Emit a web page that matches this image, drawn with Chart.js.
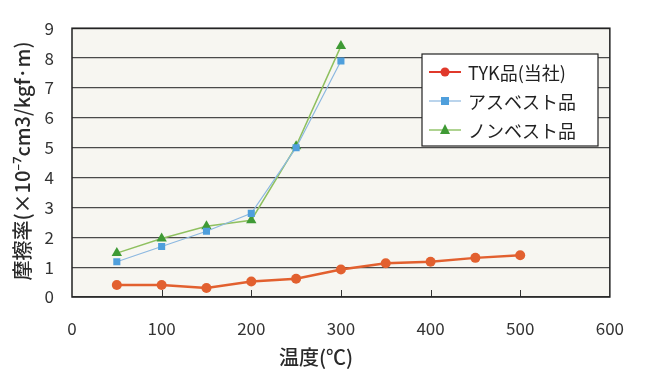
<!DOCTYPE html>
<html>
<head>
<meta charset="utf-8">
<script src="https://cdn.jsdelivr.net/npm/chart.js@4/dist/chart.umd.min.js"></script>
<style>
  html, body { margin: 0; padding: 0; background: #fff; }
  #wrap { width: 645px; height: 374px; }
</style>
</head>
<body>
<div id="wrap"><canvas id="wearChart" width="645" height="374"></canvas></div>
<script>
// data
const tykTemps = [50, 100, 150, 200, 250, 300, 350, 400, 450, 500];
const tykRates = [0.4, 0.4, 0.3, 0.52, 0.61, 0.92, 1.13, 1.18, 1.31, 1.4];
const asbTemps = [50, 100, 150, 200, 250, 300];
const asbRates = [1.18, 1.69, 2.2, 2.8, 5.0, 7.9];
const nonTemps = [50, 100, 150, 200, 250, 300];
const nonRates = [1.47, 1.96, 2.37, 2.57, 5.05, 8.4];
const seriesNames = ['TYK品(当社)', 'アスベスト品', 'ノンベスト品'];
const xTicks = [0, 100, 200, 300, 400, 500, 600];
const yTicks = [0, 1, 2, 3, 4, 5, 6, 7, 8, 9];

const FONT = '"Noto Sans CJK JP", "Noto Sans", sans-serif';

const toPoints = (xs, ys) => xs.map((x, i) => ({x: x, y: ys[i]}));

const legendStyles = [
  {line: '#e0392b', fill: '#e0392b', shape: 'circle'},
  {line: '#8cb8e0', fill: '#4f9fdc', shape: 'rect'},
  {line: '#7ab648', fill: '#3f9a35', shape: 'triangle'}
];

// plot background, inner ticks, titles and the boxed legend
const decor = {
  id: 'decor',
  beforeDraw(chart) {
    const {ctx, chartArea: a} = chart;
    ctx.save();
    ctx.fillStyle = '#f7f6f1';
    ctx.fillRect(a.left, a.top, a.right - a.left, a.bottom - a.top);
    ctx.restore();
  },
  afterDraw(chart) {
    const {ctx, chartArea: a, scales} = chart;
    ctx.save();
    // small inward ticks on the bottom axis
    ctx.strokeStyle = '#333';
    ctx.lineWidth = 1;
    xTicks.slice(1, -1).forEach(v => {
      const x = Math.round(scales.x.getPixelForValue(v)) + 0.5;
      ctx.beginPath();
      ctx.moveTo(x, a.bottom);
      ctx.lineTo(x, a.bottom - 7);
      ctx.stroke();
    });
    // frame
    ctx.strokeStyle = '#222';
    ctx.lineWidth = 1.5;
    ctx.strokeRect(a.left, a.top, a.right - a.left, a.bottom - a.top);

    // axis titles
    ctx.fillStyle = '#2a2a2a';
    ctx.font = '500 20px ' + FONT;
    ctx.textAlign = 'center';
    ctx.textBaseline = 'middle';
    ctx.fillText('温度(℃)', 316, 357);
    ctx.save();
    ctx.translate(22, 161);
    ctx.rotate(-Math.PI / 2);
    ctx.fillText('摩擦率(×10⁻⁷cm3/kgf·m)', 0, 0);
    ctx.restore();

    // legend box
    const lx = 422, ly = 54, lw = 176, lh = 92;
    ctx.fillStyle = '#fff';
    ctx.fillRect(lx, ly, lw, lh);
    ctx.strokeStyle = '#222';
    ctx.lineWidth = 1.2;
    ctx.strokeRect(lx, ly, lw, lh);
    ctx.font = '18px ' + FONT;
    ctx.textAlign = 'left';
    seriesNames.forEach((name, i) => {
      const s = legendStyles[i];
      const cy = ly + 18 + i * 29;
      ctx.strokeStyle = s.line;
      ctx.lineWidth = i === 0 ? 2 : 1.2;
      ctx.beginPath();
      ctx.moveTo(lx + 7, cy);
      ctx.lineTo(lx + 39, cy);
      ctx.stroke();
      ctx.fillStyle = s.fill;
      ctx.beginPath();
      if (s.shape === 'circle') {
        ctx.arc(lx + 23, cy, 4.5, 0, Math.PI * 2);
      } else if (s.shape === 'rect') {
        ctx.rect(lx + 19, cy - 4, 8, 8);
      } else {
        ctx.moveTo(lx + 23, cy - 6);
        ctx.lineTo(lx + 28, cy + 4);
        ctx.lineTo(lx + 18, cy + 4);
        ctx.closePath();
      }
      ctx.fill();
      ctx.fillStyle = '#222';
      ctx.fillText(name, lx + 46, cy + 1);
    });
    ctx.restore();
  }
};

const wearChart = new Chart(document.getElementById('wearChart'), {
  type: 'line',
  data: {
    datasets: [{
      label: seriesNames[0],
      data: toPoints(tykTemps, tykRates),
      borderColor: '#e2602f',
      backgroundColor: '#e2602f',
      borderWidth: 2.5,
      pointStyle: 'circle',
      pointRadius: 5,
      pointBorderWidth: 0
    }, {
      label: seriesNames[1],
      data: toPoints(asbTemps, asbRates),
      borderColor: '#8cb8e0',
      backgroundColor: '#4f9fdc',
      borderWidth: 1.2,
      pointStyle: 'rect',
      pointRadius: 5,
      pointBorderWidth: 0
    }, {
      label: seriesNames[2],
      data: toPoints(nonTemps, nonRates),
      borderColor: '#8fc060',
      backgroundColor: '#3f9a35',
      borderWidth: 1.5,
      pointStyle: 'triangle',
      pointRadius: 6,
      pointBorderWidth: 0
    }]
  },
  options: {
    responsive: false,
    animation: false,
    layout: {padding: {top: 20, right: 34, left: 0, bottom: 0}},
    plugins: {
      legend: {display: false},
      tooltip: {enabled: false}
    },
    scales: {
      x: {
        type: 'linear',
        min: 0,
        max: 600,
        afterBuildTicks: s => { s.ticks = xTicks.map(v => ({value: v})); },
        afterFit: s => { s.height = 77; },
        grid: {display: false, drawTicks: false},
        border: {display: false},
        ticks: {
          padding: 21,
          color: '#333',
          font: {family: FONT, size: 17}
        }
      },
      y: {
        min: 0,
        max: 9,
        afterBuildTicks: s => { s.ticks = yTicks.map(v => ({value: v})); },
        afterFit: s => { s.width = 72; },
        grid: {color: '#4a4a4a', lineWidth: 1.2, drawTicks: false},
        border: {display: false},
        ticks: {
          padding: 18,
          color: '#333',
          font: {family: FONT, size: 17}
        }
      }
    }
  },
  plugins: [decor]
});
</script>
</body>
</html>
